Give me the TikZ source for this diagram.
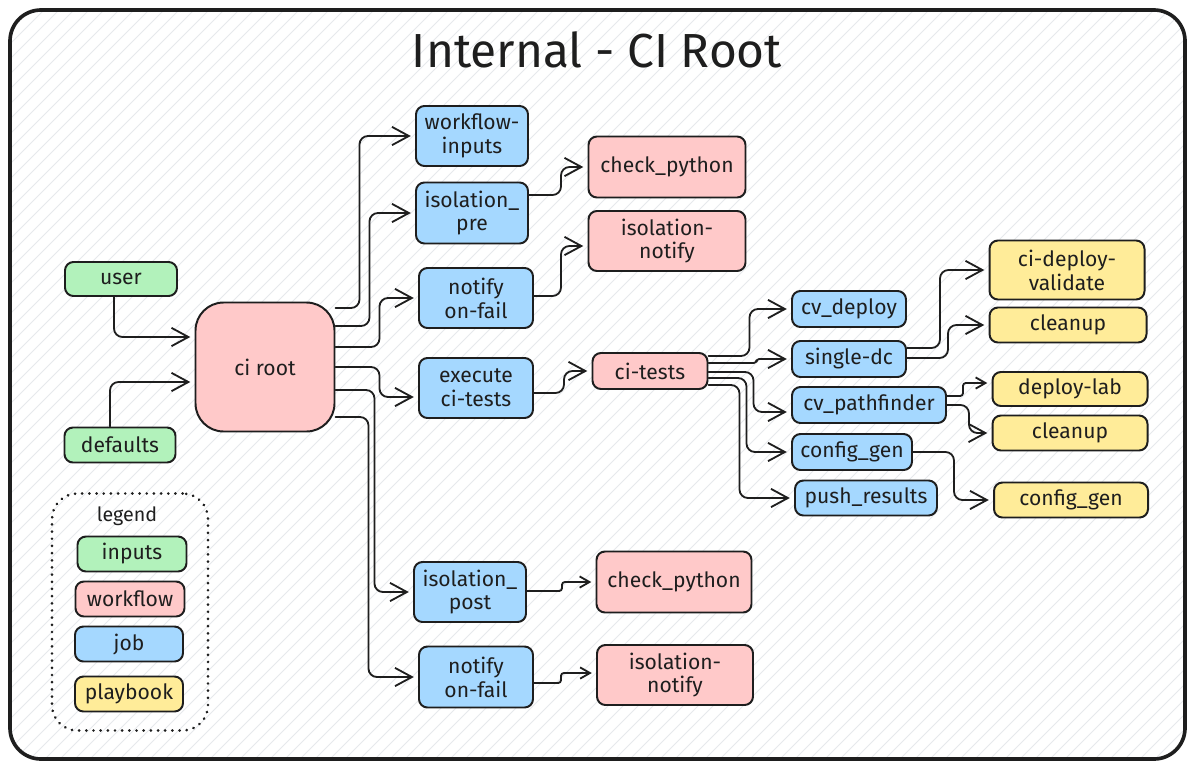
\documentclass[tikz,border=0pt]{standalone}
\usepackage{fontspec}
\setmainfont{Fira Sans}
\usepackage{tikz}
\usetikzlibrary{arrows.meta}
\usetikzlibrary{calc}

\definecolor{ink}{HTML}{1E1E1E}
\definecolor{inputfill}{HTML}{B2F2BB}
\definecolor{wffill}{HTML}{FFC9C9}
\definecolor{jobfill}{HTML}{A5D8FF}
\definecolor{pbfill}{HTML}{FFEC99}
\definecolor{hatchgray}{HTML}{E6E9EC}

\begin{document}
\begin{tikzpicture}[x=0.025cm, y=-0.025cm, line cap=round, line join=round,
    box/.style={draw=ink, line width=1.4pt, rounded corners=6pt, inner sep=0pt,
                align=center, text=ink, font=\fontsize{15}{17}\selectfont},
    boxsize/.style 2 args={minimum width=#1*0.025cm, minimum height=#2*0.025cm},
    input/.style={box, fill=inputfill},
    wf/.style={box, fill=wffill},
    job/.style={box, fill=jobfill},
    pb/.style={box, fill=pbfill},
    link/.style={draw=ink, line width=1.3pt, rounded corners=6pt, shorten >=3pt,
                 -{Straight Barb[length=12pt, width=13pt]}},
    hop/.style={link, rounded corners=2pt, -{Straight Barb[length=7pt, width=8pt]}}]

  \fill[white] (0,0) rectangle (1195,769);
  \useasboundingbox (0,0) rectangle (1195,769);

  % hatched frame
  \begin{scope}
    \clip[rounded corners=22pt] (10,10) rectangle (1185,759);
    \foreach \i in {-760,-745,...,1195}
      \draw[hatchgray, line width=0.6pt] (\i,769) -- ++(769,-769);
  \end{scope}
  \draw[ink, line width=2.6pt, rounded corners=22pt] (10,10) rectangle (1185,759);

  \node[text=ink, font=\fontsize{34}{40}\selectfont] (title) at (597,50) {Internal - CI Root};

  % inputs
  \node[input, boxsize={112}{34}] (user) at (121,279) {user};
  \node[input, boxsize={111}{35}] (defaults) at (120,445) {defaults};

  % workflows
  \node[wf, boxsize={139}{129}, rounded corners=20pt] (root) at (265,367) {ci root};
  \node[wf, boxsize={157}{61}] (chkpre) at (667,167) {check\_python};
  \node[wf, boxsize={157}{60}] (ntfpre) at (667,241) {isolation-\\notify};
  \node[wf, boxsize={115}{36}] (citests) at (650,371) {ci-tests};
  \node[wf, boxsize={155}{61}] (chkpost) at (674,582) {check\_python};
  \node[wf, boxsize={156}{60}] (ntfpost) at (675,675) {isolation-\\notify};

  % jobs
  \node[job, boxsize={112}{60}] (wfin) at (472,136) {workflow-\\inputs};
  \node[job, boxsize={112}{61}] (isopre) at (472,213) {isolation\_\\pre};
  \node[job, boxsize={114}{60}] (ntfa) at (476,298) {notify\\on-fail};
  \node[job, boxsize={114}{60}] (exec) at (476,388) {execute\\ci-tests};
  \node[job, boxsize={112}{60}] (isopost) at (470,592) {isolation\_\\post};
  \node[job, boxsize={114}{61}] (ntfb) at (476,677) {notify\\on-fail};
  \node[job, boxsize={114}{36}] (cvdep) at (849,309) {cv\_deploy};
  \node[job, boxsize={114}{36}] (sdc) at (849,359) {single-dc};
  \node[job, boxsize={154}{36}] (cvpf) at (869,405) {cv\_pathfinder};
  \node[job, boxsize={120}{36}] (cfg) at (852,452) {config\_gen};
  \node[job, boxsize={142}{35}] (push) at (866,498) {push\_results};

  % playbooks
  \node[pb, boxsize={155}{59}] (cdv) at (1067,270) {ci-deploy-\\validate};
  \node[pb, boxsize={157}{35}] (clean1) at (1068,325) {cleanup};
  \node[pb, boxsize={155}{34}] (dlab) at (1070,389) {deploy-lab};
  \node[pb, boxsize={155}{35}] (clean2) at (1070,433) {cleanup};
  \node[pb, boxsize={154}{35}] (cfgpb) at (1071,500) {config\_gen};

  % legend
  \node[draw=ink, line width=2pt, dash pattern=on 0.1pt off 5pt, rounded corners=18pt,
        boxsize={156}{237}] (legend) at (130,612) {};
  \node[text=ink, font=\fontsize{14}{17}\selectfont] (legendtxt) at (127,516) {legend};
  \node[input, boxsize={109}{35}] (keyin) at (132,554) {inputs};
  \node[wf, boxsize={109}{35}] (keywf) at (130,599) {workflow};
  \node[job, boxsize={108}{35}] (keyjob) at (129,644) {job};
  \node[pb, boxsize={108}{35}] (keypb) at (129,694) {playbook};

  \begin{scope}
    \draw[link] ($(user.south)+(-7,0)$) |- ($(root.west)+(0,-30)$);
    \draw[link] ($(defaults.north)+(-10,0)$) |- ($(root.west)+(0,15)$);

    \draw[link] ($(root.east)+(0,-59)$) -- ++(24,0) |- (wfin.west);
    \draw[link] ($(root.east)+(0,-41)$) -- ++(34,0) |- (isopre.west);
    \draw[link] ($(root.east)+(0,-20)$) -- ++(44,0) |- (ntfa.west);
    \draw[link] (root.east) -- ++(44,0) |- ($(exec.west)+(0,9)$);
    \draw[link] ($(root.east)+(0,23)$) -- ++(39,0) |- (isopost.west);
    \draw[link] ($(root.east)+(0,50)$) -- ++(33,0) |- (ntfb.west);

    \draw[link] ($(isopre.east)+(0,-18)$) -- ++(32,0) |- (chkpre.west);
    \draw[link] ($(ntfa.east)+(0,-2)$) -- ++(27,0) |- ($(ntfpre.west)+(0,5)$);
    \draw[link] ($(exec.east)+(0,5)$) -- ++(30,0) |- (citests.west);
    \draw[hop] ($(isopost.east)+(0,-1)$) -- ++(35,0) |- (chkpost.west);
    \draw[hop] ($(ntfb.east)+(0,6)$) -- ++(27,0) |- ($(ntfpost.west)+(0,-2)$);

    \draw[link] ($(citests.east)+(0,-15)$) -- ++(41,0) |- (cvdep.west);
    \draw[link, rounded corners=2pt] ($(citests.east)+(0,-8)$) -- ++(48,0) |- (sdc.west);
    \draw[link] ($(citests.east)+(0,1)$) -- ++(45,0) |- ($(cvpf.west)+(0,7)$);
    \draw[link] ($(citests.east)+(0,7)$) -- ++(38,0) |- (cfg.west);
    \draw[link] ($(citests.east)+(0,14)$) -- ++(31,0) |- (push.west);

    \draw[link] ($(sdc.east)+(0,-11)$) -- ++(33,0) |- (cdv.west);
    \draw[link] ($(sdc.east)+(0,-1)$) -- ++(41,0) |- (clean1.west);
    \draw[hop] ($(cvpf.east)+(0,-9)$) -- ++(16,0) |- ($(dlab.west)+(0,-6)$);
    \draw[link] (cvpf.east) -- ++(22,0) |- (clean2.west);
    \draw[link] (cfg.east) -- ++(41,0) |- (cfgpb.west);
  \end{scope}
\end{tikzpicture}
\end{document}
